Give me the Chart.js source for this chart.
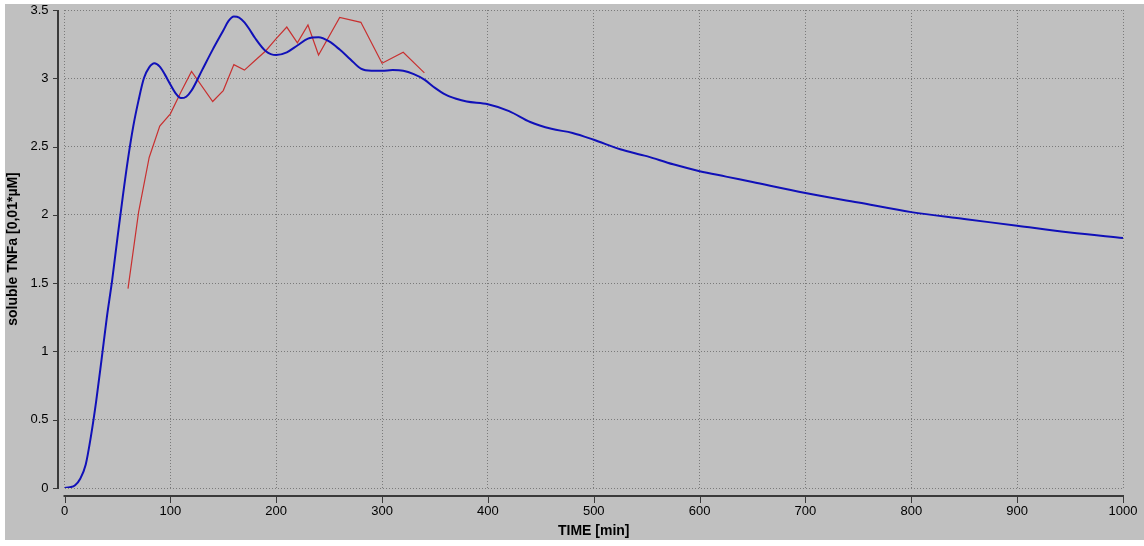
<!DOCTYPE html>
<html>
<head>
<meta charset="utf-8">
<script src="https://cdn.jsdelivr.net/npm/chart.js@4.4.1/dist/chart.umd.min.js"></script>
<style>
  html, body { margin: 0; padding: 0; background: #fff; }
  #tnfChart { display: block; }
</style>
</head>
<body>
<canvas id="tnfChart" width="1144" height="546"></canvas>
<script>
// ── Data ──
// simulated soluble TNFa (smooth model curve)
const modelTime = [0, 5, 10, 15, 20, 25, 30, 35, 40, 45, 50, 55, 60, 65, 70, 75, 80, 85, 90, 95,
  100, 105, 110, 115, 120, 130, 140, 150, 155, 160, 165, 170, 175, 180, 190, 200, 210, 220, 230,
  240, 250, 260, 270, 280, 290, 300, 310, 320, 330, 340, 350, 360, 370, 380, 400, 420, 440, 460,
  480, 500, 525, 550, 575, 600, 625, 650, 700, 750, 800, 850, 900, 950, 1000];
const modelTnf = [0, 0.005, 0.02, 0.07, 0.17, 0.38, 0.64, 0.94, 1.25, 1.52, 1.83, 2.13, 2.41, 2.65,
  2.84, 3.0, 3.08, 3.11, 3.085, 3.025, 2.955, 2.89, 2.855, 2.865, 2.91, 3.06, 3.21, 3.35, 3.42,
  3.452, 3.445, 3.41, 3.355, 3.295, 3.2, 3.17, 3.19, 3.24, 3.29, 3.3, 3.27, 3.21, 3.14, 3.07,
  3.055, 3.055, 3.06, 3.055, 3.03, 2.99, 2.93, 2.88, 2.85, 2.83, 2.81, 2.76, 2.68, 2.63, 2.6,
  2.55, 2.48, 2.43, 2.37, 2.32, 2.28, 2.24, 2.16, 2.09, 2.02, 1.97, 1.92, 1.87, 1.83];

// measured soluble TNFa
const measTime = [60, 70, 80, 90, 100, 110, 120, 140, 150, 160, 170, 180, 190, 200, 210, 220, 230,
  240, 260, 280, 300, 320, 340];
const measTnf = [1.46, 2.02, 2.42, 2.65, 2.74, 2.9, 3.05, 2.83, 2.91, 3.1, 3.06, 3.13, 3.2, 3.29,
  3.375, 3.26, 3.39, 3.17, 3.445, 3.41, 3.11, 3.19, 3.04];

const xTicks = [0, 100, 200, 300, 400, 500, 600, 700, 800, 900, 1000];
const xTickLabels = ['0', '100', '200', '300', '400', '500', '600', '700', '800', '900', '1000'];
const yTicks = [0, 0.5, 1, 1.5, 2, 2.5, 3, 3.5];
const yTickLabels = ['0', '0.5', '1', '1.5', '2', '2.5', '3', '3.5'];

const PANEL = '#c0c0c0';
const FONT = "'Liberation Sans', Arial, sans-serif";

// ── Panel background ──
const panelBg = {
  id: 'panelBg',
  beforeDraw(chart) {
    const { ctx, width, height } = chart;
    ctx.save();
    ctx.fillStyle = '#fff';
    ctx.fillRect(0, 0, width, height);
    ctx.fillStyle = PANEL;
    ctx.fillRect(5, 4, width - 5, 536);
    ctx.restore();
  }
};

// ── Detached axis lines with outside ticks ──
const detachedAxes = {
  id: 'detachedAxes',
  afterDraw(chart) {
    const { ctx, scales: { x, y } } = chart;
    const axisX = 58, axisY = 496;
    ctx.save();
    ctx.strokeStyle = '#3a3a3a';
    ctx.lineWidth = 2;
    ctx.beginPath();
    ctx.moveTo(axisX, y.getPixelForValue(0) + 1);
    ctx.lineTo(axisX, y.getPixelForValue(3.5));
    ctx.moveTo(x.getPixelForValue(0) - 1, axisY);
    ctx.lineTo(x.getPixelForValue(1000) + 1, axisY);
    ctx.stroke();
    ctx.lineWidth = 1;
    ctx.beginPath();
    yTicks.forEach(v => {
      const py = Math.round(y.getPixelForValue(v)) + 0.5;
      ctx.moveTo(axisX, py);
      ctx.lineTo(axisX - 5, py);
    });
    xTicks.forEach(v => {
      const px = Math.round(x.getPixelForValue(v)) + 0.5;
      ctx.moveTo(px, axisY);
      ctx.lineTo(px, axisY + 7);
    });
    ctx.stroke();
    ctx.restore();
  }
};

const ctx = document.getElementById('tnfChart').getContext('2d');
new Chart(ctx, {
  type: 'line',
  data: {
    datasets: [
      {
        label: 'model',
        data: modelTime.map((t, i) => ({ x: t, y: modelTnf[i] })),
        borderColor: '#1010b8',
        borderWidth: 2,
        pointRadius: 0,
        cubicInterpolationMode: 'monotone',
        order: 1
      },
      {
        label: 'measured',
        data: measTime.map((t, i) => ({ x: t, y: measTnf[i] })),
        borderColor: '#c83030',
        borderWidth: 1.2,
        pointRadius: 0,
        tension: 0,
        order: 2
      }
    ]
  },
  options: {
    responsive: false,
    animation: false,
    layout: { padding: { left: 5, top: 10, right: 21, bottom: 6 } },
    plugins: { legend: { display: false }, tooltip: { enabled: false } },
    scales: {
      x: {
        type: 'linear',
        min: 0,
        max: 1000,
        afterBuildTicks: s => { s.ticks = xTicks.map(v => ({ value: v })); },
        afterFit: s => { s.height = 52; s.paddingLeft = 0; s.paddingRight = 0; },
        grid: { color: '#7a7a7a', lineWidth: 1, drawTicks: false },
        border: { display: false, dash: [1, 2] },
        ticks: {
          padding: 16,
          color: '#000',
          font: { family: FONT, size: 13 },
          callback: (v, i) => xTickLabels[i]
        },
        title: {
          display: true,
          text: 'TIME [min]',
          color: '#000',
          font: { family: FONT, size: 14, weight: 'bold' },
          padding: { top: 0, bottom: 0 }
        }
      },
      y: {
        type: 'linear',
        min: 0,
        max: 3.5,
        afterBuildTicks: s => { s.ticks = yTicks.map(v => ({ value: v })); },
        afterFit: s => { s.width = 59.5; s.paddingTop = 0; s.paddingBottom = 0; },
        grid: { color: '#7a7a7a', lineWidth: 1, drawTicks: false },
        border: { display: false, dash: [1, 2] },
        ticks: {
          padding: 16,
          color: '#000',
          font: { family: FONT, size: 13 },
          callback: (v, i) => yTickLabels[i]
        },
        title: {
          display: true,
          text: 'soluble TNFa [0,01*µM]',
          color: '#000',
          font: { family: FONT, size: 14, weight: 'bold' },
          padding: { top: 0, bottom: 0 }
        }
      }
    }
  },
  plugins: [panelBg, detachedAxes]
});
</script>
</body>
</html>
